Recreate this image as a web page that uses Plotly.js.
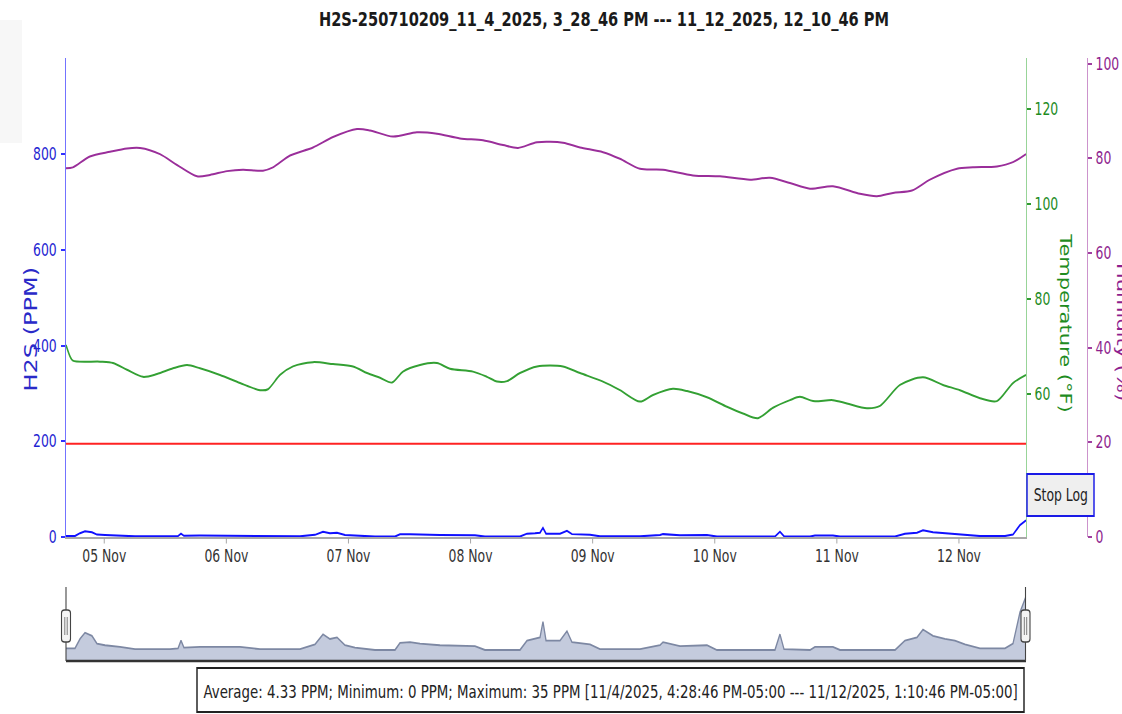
<!DOCTYPE html>
<html>
<head>
<meta charset="utf-8">
<script src="https://cdn.plot.ly/plotly-3.0.1.min.js"></script>
<style>
  html, body { margin: 0; padding: 0; background: #ffffff; overflow: hidden; }
  #wrap { width: 1537px; height: 714px; transform: scaleX(0.73); transform-origin: 0 0; }
</style>
</head>
<body>
<div id="wrap"><div id="chart"></div></div>
<script>
// ---------------- DATA ----------------
const chartTitle = "H2S-250710209_11_4_2025, 3_28_46 PM --- 11_12_2025, 12_10_46 PM";
const statsText = "Average: 4.33 PPM; Minimum: 0 PPM; Maximum: 35 PPM [11/4/2025, 4:28:46 PM-05:00 --- 11/12/2025, 1:10:46 PM-05:00]";
const rangeStart = "2025-11-04 16:28:46";
const rangeEnd = "2025-11-12 13:10:46";

const h2sTimes = ["2025-11-04 16:28:46","2025-11-04 18:15","2025-11-04 19:14","2025-11-04 20:13","2025-11-04 21:35","2025-11-04 22:34","2025-11-05 00:09","2025-11-05 03:06","2025-11-05 06:03","2025-11-05 12:55","2025-11-05 14:30","2025-11-05 15:05","2025-11-05 15:40","2025-11-05 18:49","2025-11-06 02:41","2025-11-06 06:37","2025-11-06 14:28","2025-11-06 17:25","2025-11-06 19:00","2025-11-06 20:22","2025-11-06 21:45","2025-11-06 23:19","2025-11-07 01:17","2025-11-07 05:13","2025-11-07 09:09","2025-11-07 10:08","2025-11-07 12:06","2025-11-07 14:04","2025-11-07 17:59","2025-11-08 00:52","2025-11-08 02:50","2025-11-08 09:43","2025-11-08 11:06","2025-11-08 12:40","2025-11-08 13:39","2025-11-08 14:14","2025-11-08 14:50","2025-11-08 17:35","2025-11-08 18:57","2025-11-08 19:56","2025-11-08 23:29","2025-11-09 01:26","2025-11-09 09:18","2025-11-09 13:14","2025-11-09 13:50","2025-11-09 17:10","2025-11-09 22:28","2025-11-10 00:26","2025-11-10 11:50","2025-11-10 12:49","2025-11-10 13:37","2025-11-10 18:43","2025-11-10 19:42","2025-11-10 23:14","2025-11-11 00:37","2025-11-11 11:26","2025-11-11 13:23","2025-11-11 15:45","2025-11-11 16:56","2025-11-11 18:54","2025-11-11 21:15","2025-11-11 23:13","2025-11-12 01:11","2025-11-12 04:08","2025-11-12 09:03","2025-11-12 10:37","2025-11-12 12:00","2025-11-12 13:10:46"];
const h2sValues = [2,2,8,12,10,5,4,3,1.5,1.5,2,7,2.5,3,3,1.5,1.5,4.5,11,8,9,4,2.5,1,1,5.5,6,5,4,3.5,1,1,7,8,9,19,7,7,13,6,4.5,1.5,1.5,4,6,3.5,4,1,1,11,1.5,1,3,3,1,1,7,9,14,10,8,7,4.5,2,2,5,25,35];

const tempTimes = ["2025-11-04 16:28:46","2025-11-04 17:16","2025-11-04 17:50","2025-11-04 23:10","2025-11-05 01:43","2025-11-05 04:28","2025-11-05 07:37","2025-11-05 10:22","2025-11-05 13:31","2025-11-05 16:16","2025-11-05 18:49","2025-11-05 22:45","2025-11-06 02:41","2025-11-06 06:37","2025-11-06 08:11","2025-11-06 10:33","2025-11-06 13:06","2025-11-06 17:02","2025-11-06 20:58","2025-11-07 00:54","2025-11-07 03:39","2025-11-07 06:12","2025-11-07 08:34","2025-11-07 10:43","2025-11-07 14:04","2025-11-07 17:24","2025-11-07 19:57","2025-11-08 00:29","2025-11-08 03:14","2025-11-08 05:12","2025-11-08 07:10","2025-11-08 09:43","2025-11-08 13:04","2025-11-08 18:10","2025-11-08 21:31","2025-11-09 02:02","2025-11-09 05:22","2025-11-09 09:18","2025-11-09 11:52","2025-11-09 15:47","2025-11-09 18:33","2025-11-09 22:28","2025-11-10 02:24","2025-11-10 05:33","2025-11-10 08:30","2025-11-10 11:27","2025-11-10 14:47","2025-11-10 16:45","2025-11-10 19:19","2025-11-10 23:14","2025-11-11 01:59","2025-11-11 05:55","2025-11-11 08:29","2025-11-11 12:25","2025-11-11 16:56","2025-11-11 20:52","2025-11-12 00:12","2025-11-12 04:08","2025-11-12 07:28","2025-11-12 10:37","2025-11-12 13:10:46"];
const tempValues = [70.4,68.0,67.1,66.9,66.6,65.2,63.7,64.3,65.5,66.2,65.5,64.1,62.4,60.9,61.1,64.1,65.9,66.8,66.4,65.9,64.5,63.5,62.5,64.8,66.2,66.6,65.4,64.8,63.7,62.7,62.8,64.5,65.9,65.9,64.5,62.7,60.9,58.5,59.9,61.2,60.7,59.4,57.4,56.0,55.0,57.2,58.8,59.5,58.6,58.8,58.1,57.1,57.6,62.0,63.6,62.0,60.9,59.2,58.6,62.4,64.1];

const humTimes = ["2025-11-04 16:28:46","2025-11-04 17:50","2025-11-04 21:10","2025-11-05 01:08","2025-11-05 04:28","2025-11-05 07:02","2025-11-05 10:57","2025-11-05 14:18","2025-11-05 18:14","2025-11-05 20:47","2025-11-06 00:08","2025-11-06 03:16","2025-11-06 07:12","2025-11-06 09:10","2025-11-06 12:31","2025-11-06 17:02","2025-11-06 20:58","2025-11-07 01:41","2025-11-07 04:14","2025-11-07 08:45","2025-11-07 13:28","2025-11-07 17:24","2025-11-07 21:55","2025-11-08 02:27","2025-11-08 06:23","2025-11-08 09:20","2025-11-08 13:04","2025-11-08 18:10","2025-11-08 21:31","2025-11-09 02:02","2025-11-09 05:22","2025-11-09 09:18","2025-11-09 13:50","2025-11-09 19:43","2025-11-10 01:02","2025-11-10 06:56","2025-11-10 10:51","2025-11-10 14:47","2025-11-10 18:43","2025-11-10 23:14","2025-11-11 04:33","2025-11-11 07:53","2025-11-11 11:02","2025-11-11 14:46","2025-11-11 18:18","2025-11-11 23:37","2025-11-12 02:45","2025-11-12 07:28","2025-11-12 10:37","2025-11-12 13:10:46"];
const humValues = [77.9,78.1,80.4,81.4,82.1,82.2,80.9,78.6,76.2,76.5,77.3,77.6,77.4,78.1,80.6,82.3,84.5,86.2,85.9,84.6,85.5,85.2,84.2,83.8,82.8,82.2,83.4,83.3,82.3,81.3,79.9,77.8,77.6,76.4,76.2,75.5,75.9,74.8,73.6,74.1,72.5,72.0,72.7,73.2,75.5,77.8,78.1,78.3,79.2,80.9];

const alarmTimes = ["2025-11-04 16:28:46","2025-11-12 13:10:46"];
const alarmValues = [195, 195];

const h2sTicks = [0, 200, 400, 600, 800];
const tempTicks = [60, 80, 100, 120];
const humTicks = [0, 20, 40, 60, 80, 100];

// ---------------- LAYOUT HELPERS ----------------
const SX = 0.73, W = 1537, H = 714;
const fx = px => px / SX / W;      // reference pixel x -> paper fraction
const fy = py => 1 - py / H;       // reference pixel y -> paper fraction
const FONT = "DejaVu Sans, Verdana, sans-serif";

function handlePath(cx, top, bot) {
  const hw = 4.5, r = 3;
  const x0 = fx(cx - hw), x1 = fx(cx + hw);
  const rx = fx(r) , ry = r / H;
  const y0 = fy(bot), y1 = fy(top);
  return `M ${x0 + rx} ${y1} L ${x1 - rx} ${y1} Q ${x1} ${y1} ${x1} ${y1 - ry} L ${x1} ${y0 + ry} Q ${x1} ${y0} ${x1 - rx} ${y0} L ${x0 + rx} ${y0} Q ${x0} ${y0} ${x0} ${y0 + ry} L ${x0} ${y1 - ry} Q ${x0} ${y1} ${x0 + rx} ${y1} Z`;
}

const navFloor = -6;

const traces = [
  { x: humTimes, y: humValues, yaxis: "y3", xaxis: "x", type: "scatter", mode: "lines",
    line: { color: "#9a2e9a", width: 2, shape: "spline", smoothing: 0.8 }, hoverinfo: "skip" },
  { x: tempTimes, y: tempValues, yaxis: "y2", xaxis: "x", type: "scatter", mode: "lines",
    line: { color: "#33a033", width: 2, shape: "spline", smoothing: 0.8 }, hoverinfo: "skip" },
  { x: alarmTimes, y: alarmValues, yaxis: "y", xaxis: "x", type: "scatter", mode: "lines",
    line: { color: "#ff2222", width: 2 }, hoverinfo: "skip" },
  { x: h2sTimes, y: h2sValues, yaxis: "y", xaxis: "x", type: "scatter", mode: "lines",
    line: { color: "#1010ff", width: 2 }, hoverinfo: "skip" },
  // navigator baseline + area
  { x: [rangeStart, rangeEnd], y: [navFloor, navFloor], xaxis: "x2", yaxis: "y4", type: "scatter",
    mode: "lines", line: { width: 0, color: "rgba(0,0,0,0)" }, hoverinfo: "skip" },
  { x: h2sTimes, y: h2sValues, xaxis: "x2", yaxis: "y4", type: "scatter", mode: "lines",
    fill: "tonexty", fillcolor: "#c4cbdd",
    line: { color: "#7d88a3", width: 1.8 }, hoverinfo: "skip" }
];

const layout = {
  width: W, height: H,
  margin: { l: 0, r: 0, t: 0, b: 0, pad: 0 },
  paper_bgcolor: "#ffffff", plot_bgcolor: "rgba(0,0,0,0)",
  showlegend: false,
  font: { family: FONT, color: "#333" },
  title: { text: chartTitle, xref: "container", yref: "container", x: fx(604), y: fy(19),
           xanchor: "center", yanchor: "middle",
           font: { family: FONT, size: 20, weight: "bold", color: "#1a1a1a" } },
  xaxis: { domain: [fx(66), fx(1026)], anchor: "y", type: "date", range: [rangeStart, rangeEnd],
           tickformat: "%d %b", dtick: 86400000, tick0: "2025-11-05 00:00",
           ticks: "outside", ticklen: 5, tickcolor: "#9a9a9a", tickwidth: 1,
           showline: true, linecolor: "#a8a8a8", linewidth: 1.5,
           showgrid: false, zeroline: false, ticklabelstandoff: -2,
           tickfont: { family: FONT, size: 17, color: "#333" } },
  yaxis: { domain: [fy(537), fy(58)], anchor: "x", range: [0, 1001], tickvals: h2sTicks,
           showline: true, linecolor: "#6c6cff", linewidth: 1.3,
           ticks: "outside", ticklen: 5, tickcolor: "#3030ff", tickwidth: 2,
           showgrid: false, zeroline: false, ticklabelstandoff: 3,
           tickfont: { family: FONT, size: 17, color: "#1f1fd2" } },
  yaxis2: { overlaying: "y", side: "right", anchor: "x", range: [30, 130.8], tickvals: tempTicks,
            showline: true, linecolor: "#92d292", linewidth: 1.3,
            ticks: "outside", ticklen: 5, tickcolor: "#2e9a2e", tickwidth: 2,
            showgrid: false, zeroline: false, ticklabelstandoff: 2,
            tickfont: { family: FONT, size: 17, color: "#1f8c1f" } },
  yaxis3: { overlaying: "y", side: "right", anchor: "free", position: fx(1087),
            range: [0, 101.2], tickvals: humTicks,
            showline: true, linecolor: "#c98dc9", linewidth: 1.3,
            ticks: "outside", ticklen: 5, tickcolor: "#a040a0", tickwidth: 2,
            showgrid: false, zeroline: false, ticklabelstandoff: 2,
            tickfont: { family: FONT, size: 17, color: "#8e1e8e" } },
  xaxis2: { domain: [fx(66), fx(1026)], anchor: "y4", type: "date", range: [rangeStart, rangeEnd],
            visible: false, showgrid: false, zeroline: false },
  yaxis4: { domain: [fy(661), fy(587)], anchor: "x2", range: [navFloor, 41],
            visible: false, showgrid: false, zeroline: false },
  annotations: [
    { text: "H2S (PPM)", xref: "paper", yref: "paper", x: fx(31), y: fy(329), textangle: -90,
      showarrow: false, xanchor: "center", yanchor: "middle",
      font: { family: FONT, size: 24, color: "#2a2ac8" } },
    { text: "Temperature (°F)", xref: "paper", yref: "paper", x: fx(1065), y: fy(323), textangle: 90,
      showarrow: false, xanchor: "center", yanchor: "middle",
      font: { family: FONT, size: 21, color: "#1f8c1f" } },
    { text: "Humidity (%)", xref: "paper", yref: "paper", x: fx(1122), y: fy(332), textangle: 90,
      showarrow: false, xanchor: "center", yanchor: "middle",
      font: { family: FONT, size: 21, color: "#8e1e8e" } },
    { text: "Stop Log", xref: "paper", yref: "paper", x: fx(1060.5), y: fy(495),
      showarrow: false, xanchor: "center", yanchor: "middle",
      font: { family: FONT, size: 17, color: "#222" } },
    { text: statsText, xref: "paper", yref: "paper", x: fx(610.5), y: fy(691),
      showarrow: false, xanchor: "center", yanchor: "middle",
      font: { family: FONT, size: 18.3, color: "#222" } }
  ],
  shapes: [
    { type: "rect", xref: "paper", yref: "paper", x0: 0, x1: fx(22), y0: fy(143), y1: fy(20),
      fillcolor: "#f7f7f7", line: { width: 0 }, layer: "below" },
    // navigator frame
    { type: "line", xref: "paper", yref: "paper", x0: fx(66), x1: fx(1026), y0: fy(661), y1: fy(661),
      line: { color: "#333", width: 2.5 } },
    { type: "line", xref: "paper", yref: "paper", x0: fx(66), x1: fx(66), y0: fy(661), y1: fy(587),
      line: { color: "#444", width: 1.5 } },
    { type: "line", xref: "paper", yref: "paper", x0: fx(1025.5), x1: fx(1025.5), y0: fy(661), y1: fy(587),
      line: { color: "#444", width: 1.5 } },
    { type: "path", xref: "paper", yref: "paper", path: handlePath(66, 610, 642),
      fillcolor: "#f4f4f4", line: { color: "#444", width: 1.5 } },
    { type: "path", xref: "paper", yref: "paper", path: handlePath(1025.5, 610, 642),
      fillcolor: "#f4f4f4", line: { color: "#444", width: 1.5 } },
    { type: "line", xref: "paper", yref: "paper", x0: fx(64.8), x1: fx(64.8), y0: fy(635), y1: fy(617),
      line: { color: "#777", width: 1.3 } },
    { type: "line", xref: "paper", yref: "paper", x0: fx(67.2), x1: fx(67.2), y0: fy(635), y1: fy(617),
      line: { color: "#777", width: 1.3 } },
    { type: "line", xref: "paper", yref: "paper", x0: fx(1024.3), x1: fx(1024.3), y0: fy(635), y1: fy(617),
      line: { color: "#777", width: 1.3 } },
    { type: "line", xref: "paper", yref: "paper", x0: fx(1026.7), x1: fx(1026.7), y0: fy(635), y1: fy(617),
      line: { color: "#777", width: 1.3 } },
    // Stop Log button
    { type: "rect", xref: "paper", yref: "paper", x0: fx(1027), x1: fx(1094), y0: fy(516), y1: fy(474),
      fillcolor: "#efefef", line: { color: "#1a1ae6", width: 2 }, layer: "above" },
    // stats box
    { type: "rect", xref: "paper", yref: "paper", x0: fx(197), x1: fx(1024), y0: fy(712), y1: fy(668),
      fillcolor: "#ffffff", line: { color: "#222", width: 2 }, layer: "below" }
  ]
};

Plotly.newPlot("chart", traces, layout, { staticPlot: true, displayModeBar: false });
</script>
</body>
</html>
